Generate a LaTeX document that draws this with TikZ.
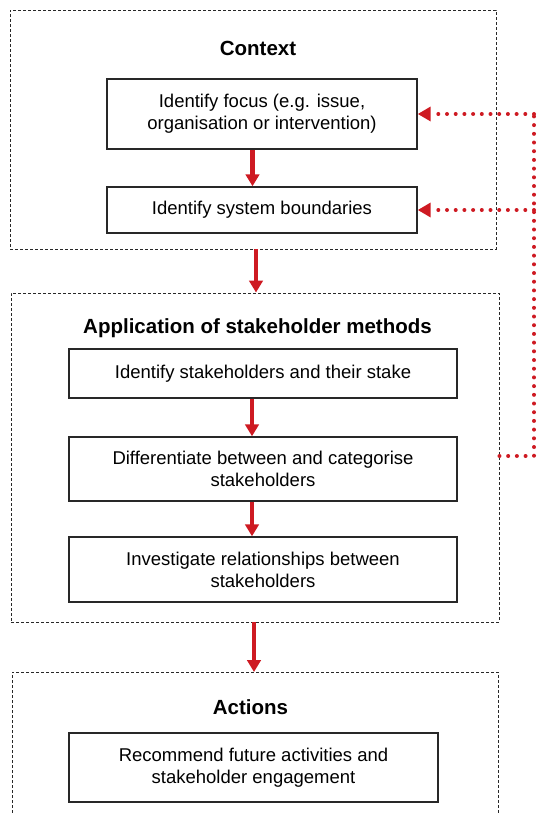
\documentclass[tikz,border=0pt]{standalone}
\usepackage{fontspec}
\setmainfont{Liberation Sans}
\usetikzlibrary{arrows.meta}
\definecolor{arrred}{RGB}{206,26,34}
\definecolor{boxline}{RGB}{40,40,40}
\begin{document}
\begin{tikzpicture}[x=1pt,y=-1pt,
  stepbox/.style={draw=boxline,line width=1.4pt,rectangle,align=center,inner sep=0pt,
    font=\fontsize{18.5}{22}\selectfont},
  group/.style={draw=boxline,line width=0.95pt,dash pattern=on 3pt off 2pt,rectangle,inner sep=0pt},
  gtitle/.style={font=\fontsize{20.5}{24}\selectfont\bfseries,inner sep=0pt},
  flow/.style={draw=arrred,line width=4.2pt,-{Triangle[length=12pt,width=13.5pt]}},
  feedback/.style={draw=arrred,line width=4pt,line cap=round,dash pattern=on 0pt off 8.7pt,
    -{Triangle[length=13pt,width=14pt]}},
  feedline/.style={draw=arrred,line width=4pt,line cap=round,dash pattern=on 0pt off 8.7pt}]
\useasboundingbox (0,0) rectangle (536,813);
% groups
\node[group,minimum width=486pt,minimum height=239pt] (ctx) at (253,129.5) {};
\node[group,minimum width=488pt,minimum height=329pt] (app) at (255,457.5) {};
\coordinate (actL) at (12,672);
\coordinate (actR) at (498,672);
\coordinate (actT) at (255,672);
\draw[boxline,line width=0.95pt,dash pattern=on 3pt off 2pt] (12,813) -- (actL) -- (actR) -- (498,813);
% titles
\node[gtitle] (tctx) at (258,48) {Context};
\node[gtitle] (tapp) at (257.5,328) {Application of stakeholder methods};
\node[gtitle] (tact) at (250.5,707) {Actions};
% steps
\node[stepbox,minimum width=310pt,minimum height=70pt] (b1) at (262,114) {Identify focus (e.g. issue,\\organisation or intervention)};
\node[stepbox,minimum width=310pt,minimum height=46pt] (b2) at (262,210) {Identify system boundaries};
\node[stepbox,minimum width=388pt,minimum height=49pt] (b3) at (263,373.5) {Identify stakeholders and their stake};
\node[stepbox,minimum width=388pt,minimum height=64pt] (b4) at (263,469) {Differentiate between and categorise\\stakeholders};
\node[stepbox,minimum width=388pt,minimum height=65pt] (b5) at (263,569.5) {Investigate relationships between\\stakeholders};
\node[stepbox,minimum width=369pt,minimum height=69pt] (b6) at (253.5,767.5) {Recommend future activities and\\stakeholder engagement};
% flow arrows
\draw[flow] (b1.south -| 252.5,0) -- (b2.north -| 252.5,0);
\draw[flow] (ctx.south -| 256,0) -- (app.north -| 256,0);
\draw[flow] (b3.south -| 252,0) -- (b4.north -| 252,0);
\draw[flow] (b4.south -| 252,0) -- (b5.north -| 252,0);
\draw[flow] (app.south -| 254,0) -- (actT -| 254,0);
% feedback
\coordinate (fbB) at (534,456);
\coordinate (fbT) at (534,114);
\coordinate (fbM) at (534,210);
\draw[feedline] (app.east |- fbB) -- (fbB) -- (fbT);
\draw[feedback] (fbT) -- (b1.east);
\draw[feedback] (fbM) -- (b2.east);
\end{tikzpicture}
\end{document}
